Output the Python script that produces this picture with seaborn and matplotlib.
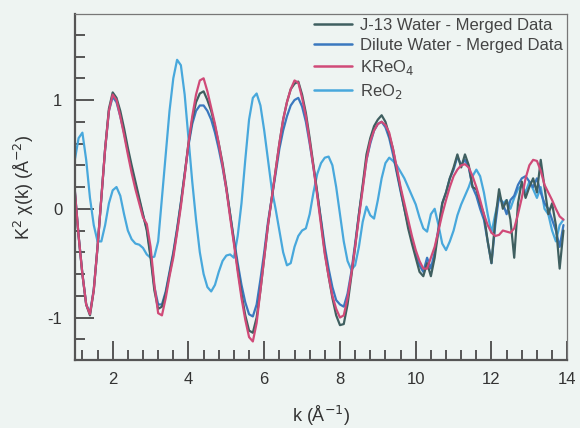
import numpy as np
import pandas as pd
import matplotlib
matplotlib.use("Agg")
import matplotlib.pyplot as plt
from matplotlib.ticker import MultipleLocator, AutoMinorLocator
import seaborn as sns

# ---- data (k in 1/A, k^2 chi(k)) ----
k_grid = [round(1.0 + 0.1 * i, 1) for i in range(130)]

kreo4 = [
    0.17, -0.25, -0.60, -0.88, -0.97, -0.75, -0.35, 0.10, 0.55, 0.90,
    1.05, 1.00, 0.85, 0.68, 0.50, 0.33, 0.18, 0.05, -0.08, -0.14,
    -0.35, -0.70, -0.96, -0.98, -0.82, -0.62, -0.45, -0.22, 0.02, 0.30,
    0.60, 0.85, 1.05, 1.18, 1.20, 1.08, 0.93, 0.78, 0.60, 0.40,
    0.18, -0.08, -0.32, -0.58, -0.82, -1.02, -1.18, -1.22, -1.05, -0.75,
    -0.45, -0.15, 0.10, 0.35, 0.60, 0.82, 0.98, 1.10, 1.18, 1.16,
    1.02, 0.85, 0.62, 0.38, 0.12, -0.15, -0.42, -0.62, -0.80, -0.92,
    -1.00, -0.98, -0.82, -0.60, -0.35, -0.08, 0.18, 0.45, 0.62, 0.72,
    0.78, 0.80, 0.77, 0.70, 0.55, 0.38, 0.20, 0.05, -0.10, -0.25,
    -0.38, -0.48, -0.55, -0.55, -0.45, -0.35, -0.20, -0.05, 0.08, 0.20,
    0.30, 0.36, 0.40, 0.41, 0.38, 0.30, 0.20, 0.08, -0.05, -0.15,
    -0.22, -0.25, -0.24, -0.20, -0.21, -0.22, -0.18, -0.05, 0.10, 0.28,
    0.40, 0.45, 0.44, 0.35, 0.22, 0.15, 0.08, 0.00, -0.07, -0.10,
]

j13 = [
    0.15, -0.25, -0.60, -0.88, -0.98, -0.75, -0.35, 0.10, 0.55, 0.92,
    1.07, 1.02, 0.90, 0.74, 0.56, 0.40, 0.25, 0.10, -0.05, -0.20,
    -0.45, -0.75, -0.92, -0.90, -0.78, -0.60, -0.42, -0.20, 0.05, 0.32,
    0.60, 0.82, 0.98, 1.06, 1.08, 1.00, 0.90, 0.76, 0.60, 0.42,
    0.20, -0.05, -0.30, -0.55, -0.78, -0.98, -1.12, -1.14, -1.00, -0.75,
    -0.45, -0.15, 0.10, 0.35, 0.60, 0.82, 0.98, 1.10, 1.15, 1.17,
    1.05, 0.88, 0.65, 0.40, 0.15, -0.12, -0.40, -0.62, -0.82, -0.98,
    -1.07, -1.06, -0.88, -0.62, -0.35, -0.05, 0.22, 0.50, 0.65, 0.76,
    0.82, 0.86, 0.80, 0.68, 0.55, 0.35, 0.18, 0.00, -0.18, -0.32,
    -0.45, -0.58, -0.62, -0.50, -0.62, -0.45, -0.20, 0.05, 0.15, 0.28,
    0.38, 0.50, 0.38, 0.50, 0.40, 0.20, 0.18, 0.05, -0.05, -0.30,
    -0.50, -0.10, 0.18, 0.00, 0.08, -0.10, -0.45, 0.05, 0.25, 0.10,
    0.20, 0.28, 0.15, 0.45, 0.20, -0.05, 0.05, -0.15, -0.55, -0.20,
]

dilute = [
    0.17, -0.25, -0.60, -0.88, -0.96, -0.74, -0.35, 0.10, 0.55, 0.90,
    1.03, 0.98, 0.85, 0.70, 0.53, 0.37, 0.22, 0.08, -0.06, -0.18,
    -0.42, -0.72, -0.88, -0.88, -0.76, -0.58, -0.40, -0.18, 0.06, 0.32,
    0.58, 0.78, 0.90, 0.95, 0.95, 0.90, 0.82, 0.70, 0.55, 0.38,
    0.18, -0.05, -0.28, -0.50, -0.70, -0.86, -0.97, -0.99, -0.88, -0.65,
    -0.40, -0.12, 0.10, 0.32, 0.55, 0.72, 0.85, 0.95, 1.00, 1.02,
    0.94, 0.80, 0.60, 0.38, 0.14, -0.10, -0.35, -0.55, -0.72, -0.84,
    -0.88, -0.90, -0.78, -0.58, -0.32, -0.05, 0.20, 0.45, 0.60, 0.72,
    0.78, 0.80, 0.75, 0.65, 0.50, 0.33, 0.16, 0.00, -0.15, -0.28,
    -0.40, -0.52, -0.58, -0.45, -0.55, -0.40, -0.18, 0.05, 0.15, 0.28,
    0.36, 0.48, 0.40, 0.45, 0.38, 0.20, 0.12, 0.00, -0.10, -0.30,
    -0.50, -0.15, 0.12, 0.05, -0.05, 0.08, 0.12, 0.22, 0.28, 0.30,
    0.25, 0.20, 0.28, 0.15, 0.05, 0.00, -0.10, -0.20, -0.35, -0.15,
]

reo2 = [
    0.45, 0.65, 0.70, 0.45, 0.10, -0.15, -0.30, -0.30, -0.15, 0.05,
    0.17, 0.20, 0.12, -0.05, -0.20, -0.28, -0.32, -0.33, -0.36, -0.42,
    -0.45, -0.44, -0.30, 0.10, 0.50, 0.90, 1.20, 1.37, 1.32, 1.05,
    0.65, 0.25, -0.10, -0.40, -0.60, -0.72, -0.76, -0.70, -0.58, -0.48,
    -0.43, -0.42, -0.45, -0.25, 0.05, 0.45, 0.82, 1.02, 1.06, 0.95,
    0.72, 0.45, 0.18, 0.00, -0.20, -0.40, -0.52, -0.50, -0.35, -0.25,
    -0.20, -0.18, -0.05, 0.15, 0.32, 0.42, 0.47, 0.48, 0.40, 0.20,
    -0.05, -0.30, -0.48, -0.56, -0.52, -0.35, -0.12, 0.02, -0.06, -0.09,
    0.08, 0.28, 0.42, 0.47, 0.44, 0.40, 0.34, 0.28, 0.20, 0.12,
    0.04, -0.08, -0.18, -0.21, -0.05, 0.00, -0.15, -0.32, -0.38, -0.30,
    -0.20, -0.06, 0.04, 0.12, 0.20, 0.30, 0.36, 0.30, 0.15, -0.05,
    -0.22, -0.05, 0.10, 0.05, 0.08, 0.00, 0.10, 0.18, 0.22, 0.15,
    0.25, 0.18, 0.10, 0.20, 0.00, -0.05, -0.20, -0.30, -0.15, -0.10,
]

series_names = ["J-13 Water - Merged Data", "Dilute Water - Merged Data",
                "KReO$_4$", "ReO$_2$"]
series_vals = [j13, dilute, kreo4, reo2]
colors = ["#3f5f60", "#3a78bf", "#d04a78", "#48a8dc"]

df = pd.concat(
    [pd.DataFrame({"k": k_grid, "chi": v, "sample": n})
     for n, v in zip(series_names, series_vals)],
    ignore_index=True,
)

# ---- plot ----
bg = "#eef4f2"
sns.set_theme(style="ticks")
plt.rcParams["font.family"] = ["Liberation Sans", "DejaVu Sans"]
plt.rcParams["axes.unicode_minus"] = False

fig = plt.figure(figsize=(5.8, 4.28), dpi=100, facecolor=bg)
ax = fig.add_axes([0.129, 0.159, 0.849, 0.808], facecolor=bg)

# draw order: ReO2 underneath, then data, KReO4 on top
order = [3, 1, 0, 2]
for i in order:
    sns.lineplot(data=df[df["sample"] == series_names[i]], x="k", y="chi",
                 color=colors[i], lw=1.6, ax=ax,
                 estimator=None, sort=False, legend=False)

handles = [plt.Line2D([], [], color=c, lw=1.8) for c in colors]
ax.legend(handles, series_names, loc="upper right", frameon=False,
          fontsize=12, handlelength=2.3, handletextpad=0.5,
          labelspacing=0.3, borderaxespad=0.05, borderpad=0.2,
          labelcolor="#444444")

ax.set_xlim(1, 14)
ax.set_ylim(-1.39, 1.79)
ax.xaxis.set_major_locator(MultipleLocator(2))
ax.xaxis.set_minor_locator(AutoMinorLocator(5))
ax.yaxis.set_major_locator(MultipleLocator(1))
ax.yaxis.set_minor_locator(AutoMinorLocator(5))
ax.tick_params(which="both", direction="in", colors="#555555", width=1.4,
               top=False, right=False, labelsize=12, labelcolor="#333333")
ax.tick_params(which="major", length=14, pad=9)
ax.tick_params(which="minor", length=7)

for s in ["left", "bottom"]:
    ax.spines[s].set_color("#555555")
    ax.spines[s].set_linewidth(1.6)
for s in ["top", "right"]:
    ax.spines[s].set_color("#777777")
    ax.spines[s].set_linewidth(0.9)

ax.set_xlabel("k (Å$^{-1}$)", fontsize=13, color="#333333", labelpad=12)
ax.set_ylabel("K$^2$ χ(k) (Å$^{-2}$)", fontsize=13, color="#333333", labelpad=8)

fig.savefig("out.png", dpi=100, facecolor=bg)
